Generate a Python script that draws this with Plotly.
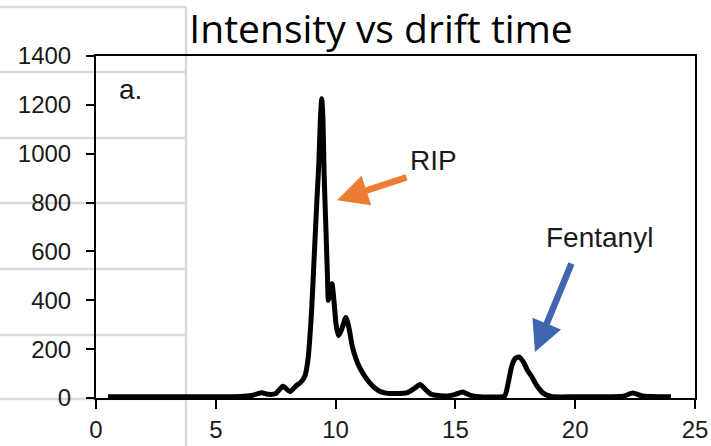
import plotly.graph_objects as go

# Drift-time spectrum (ms) and ion intensity
drift_time = [0.5, 1, 2, 3, 4, 5, 6, 6.5, 6.9, 7.2, 7.5, 7.8, 8.1, 8.35, 8.55, 8.72,
              8.85, 9.0, 9.1, 9.22, 9.3, 9.36, 9.42, 9.47, 9.52, 9.6, 9.66, 9.7,
              9.76, 9.85, 9.93, 10.02, 10.12, 10.25, 10.43, 10.55, 10.7, 10.85,
              11.0, 11.2, 11.4, 11.65, 11.9, 12.1, 12.5, 13.0, 13.3, 13.52, 13.8,
              14.0, 14.6, 15.0, 15.3, 15.6, 16.0, 16.5, 17.05, 17.2, 17.35, 17.5,
              17.66, 17.85, 18.0, 18.2, 18.4, 18.66, 19.0, 20, 21, 22.0, 22.4,
              22.8, 23.5, 24.0]
intensity = [5, 5, 5, 5, 5, 5, 6, 10, 22, 15, 18, 48, 26, 50, 65, 90,
             160, 360, 565, 810, 960, 1130, 1225, 1150, 920, 680, 500, 400,
             420, 468, 400, 300, 255, 280, 330, 290, 210, 160,
             125, 92, 65, 40, 25, 20, 18, 22, 40, 55, 30,
             15, 8, 15, 25, 12, 5, 4, 8, 60, 130, 162,
             168, 145, 115, 85, 50, 20, 6, 5, 5, 7, 20,
             8, 5, 5]

x_ticks = [0, 5, 10, 15, 20, 25]
y_ticks = [0, 200, 400, 600, 800, 1000, 1200, 1400]

W, H = 711, 446
M_L, M_R, M_T, M_B = 96, 16, 56, 48

fig = go.Figure()
fig.add_trace(go.Scatter(
    x=drift_time, y=intensity, mode="lines",
    line=dict(color="black", width=5, shape="spline", smoothing=0.6),
    hoverinfo="skip", showlegend=False, cliponaxis=False,
))


def px_to_paper_x(px):
    return (px - M_L) / (W - M_L - M_R)


def px_to_paper_y(py):
    return (H - M_B - py) / (H - M_T - M_B)


# Worksheet cell borders showing behind the chart
grid_color = "#d9d9d9"
shapes = []
col_x = px_to_paper_x(186)
for row_y in [7, 72, 138, 203, 269, 335, 399]:
    shapes.append(dict(type="line", xref="paper", yref="paper",
                       x0=px_to_paper_x(0), x1=col_x,
                       y0=px_to_paper_y(row_y), y1=px_to_paper_y(row_y),
                       line=dict(color=grid_color, width=2.5), layer="below"))
shapes.append(dict(type="line", xref="paper", yref="paper",
                   x0=col_x, x1=col_x,
                   y0=px_to_paper_y(7), y1=px_to_paper_y(446),
                   line=dict(color=grid_color, width=2.5), layer="below"))

tick_font = dict(family="Liberation Sans, Arial, sans-serif", size=24, color="#1a1a1a")
label_font = dict(family="Liberation Sans, Arial, sans-serif", size=28, color="#1a1a1a")

annotations = [
    dict(x=10.06, y=810, ax=13.02, ay=905, xref="x", yref="y", axref="x", ayref="y",
         showarrow=True, arrowhead=2, arrowsize=0.95, arrowwidth=6.5,
         arrowcolor="#ED7D31", text=""),
    dict(x=18.32, y=188, ax=19.87, ay=557, xref="x", yref="y", axref="x", ayref="y",
         showarrow=True, arrowhead=2, arrowsize=0.95, arrowwidth=6.5,
         arrowcolor="#3F66AE", text=""),
    dict(x=14.1, y=974, xref="x", yref="y", text="RIP", showarrow=False, font=label_font),
    dict(x=21.03, y=659, xref="x", yref="y", text="Fentanyl", showarrow=False, font=label_font),
    dict(x=1.42, y=1262, xref="x", yref="y", text="a.", showarrow=False, font=label_font),
]

fig.update_layout(
    width=W, height=H,
    margin=dict(l=M_L, r=M_R, t=M_T, b=M_B, autoexpand=False),
    paper_bgcolor="rgba(0,0,0,0)", plot_bgcolor="rgba(0,0,0,0)",
    title=dict(text="Intensity vs drift time", x=px_to_paper_x(381), xref="paper",
               xanchor="center", y=1 - 29 / H, yanchor="middle", automargin=False,
               font=dict(family="Open Sans, sans-serif", size=39, color="black")),
    shapes=shapes,
    annotations=annotations,
    xaxis=dict(range=[0, 25], tickvals=x_ticks, ticks="outside", ticklen=9, tickwidth=2,
               tickcolor="black", showline=True, linecolor="black", linewidth=2,
               mirror=True, showgrid=False, zeroline=False, tickfont=tick_font,
               automargin=False, fixedrange=True),
    yaxis=dict(range=[0, 1400], tickvals=y_ticks, ticks="outside", ticklen=8, tickwidth=2,
               tickcolor="black", showline=True, linecolor="black", linewidth=2,
               mirror=True, showgrid=False, zeroline=False, tickfont=tick_font,
               ticklabelstandoff=10, automargin=False, fixedrange=True),
)

fig.write_html("out.html")
